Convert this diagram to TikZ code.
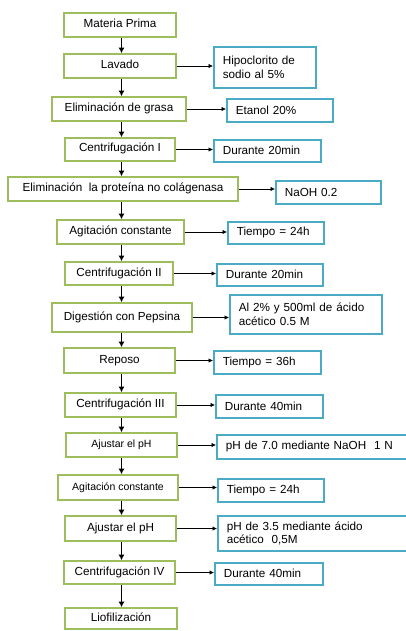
\documentclass[tikz,border=0pt]{standalone}
\usepackage{fontspec}
\setmainfont{Liberation Sans}
\usepackage{tikz}
\usepackage{color}
\definecolor{verdeoliva}{RGB}{158,189,92}
\definecolor{azulagua}{RGB}{75,170,196}
\usetikzlibrary{shapes,arrows,arrows.meta}
\tikzstyle{paso} = [draw=verdeoliva, rectangle, line width=1.6pt, inner sep=0pt,
    minimum height=24pt, text height=9pt, text depth=4pt,
    font=\fontsize{11.7}{13.5}\selectfont]
\tikzstyle{pasochico} = [paso, font=\fontsize{10.5}{12}\selectfont]
\tikzstyle{dato} = [draw=azulagua, rectangle, line width=1.6pt, inner xsep=9pt,
    inner ysep=0pt, minimum height=23pt, align=left, anchor=north west,
    font=\fontsize{11.7}{13.5}\selectfont]
\tikzstyle{baja} = [-{Latex[length=5.5pt,width=6pt]}, line width=1.8pt]
\tikzstyle{lado} = [-{Latex[length=4.5pt,width=4.5pt]}, line width=0.7pt]

\begin{document}
\begin{tikzpicture}[x=1pt, y=-1pt]
    \useasboundingbox (0,0) rectangle (406,631);
    \fill [white] (0,0) rectangle (406,631);
    \clip (0,0) rectangle (406,631);

    % pasos del proceso
    \node [paso, minimum width=112pt] (prima) at (120,25) {Materia Prima};
    \node [paso, minimum width=112pt] (lavado) at (120,66) {Lavado};
    \node [paso, minimum width=134pt] (grasa) at (119,109) {Eliminación de grasa};
    \node [paso, minimum width=110pt, minimum height=23pt] (centI) at (120,149.5) {Centrifugación I};
    \node [paso, minimum width=230pt] (proteina) at (123,189) {Eliminación\ \ la proteína no colágenasa};
    \node [paso, minimum width=127pt] (agitA) at (120.5,232) {Agitación constante};
    \node [paso, minimum width=108pt, minimum height=23pt] (centII) at (119,273.5) {Centrifugación II};
    \node [paso, minimum width=140pt, minimum height=29pt] (digestion) at (122,317.5) {Digestión con Pepsina};
    \node [paso, minimum width=111pt, minimum height=25pt] (reposo) at (119.5,360.5) {Reposo};
    \node [paso, minimum width=111pt] (centIII) at (120.5,405) {Centrifugación III};
    \node [pasochico, minimum width=111pt] (phA) at (121.5,445) {Ajustar el pH};
    \node [pasochico, minimum width=120pt, minimum height=25pt] (agitB) at (118,487.5) {Agitación constante};
    \node [paso, minimum width=111pt, minimum height=25pt] (phB) at (120.5,528.5) {Ajustar el pH};
    \node [paso, minimum width=111pt, minimum height=23pt] (centIV) at (119.5,572.5) {Centrifugación IV};
    \node [paso, minimum width=112pt, minimum height=21pt] (liofil) at (121,618.5) {Liofilización};

    % condiciones
    \node [dato, text width=84pt, minimum height=41pt] (hipo) at (213,46) {Hipoclorito de\\sodio al 5\%};
    \node [dato, text width=88pt] (etanol) at (226,98) {Etanol 20\%};
    \node [dato, text width=89pt, minimum height=22pt] (durI) at (213,139) {Durante 20min};
    \node [dato, text width=87pt] (naoh) at (275,180) {NaOH 0.2};
    \node [dato, text width=78pt, minimum height=22pt] (tiempoA) at (227,221) {Tiempo = 24h};
    \node [dato, text width=88pt, minimum height=22pt] (durII) at (216,263) {Durante 20min};
    \node [dato, text width=134pt, minimum height=39pt] (pepsina) at (229,294) {Al 2\% y 500ml de ácido\\acético 0.5 M};
    \node [dato, text width=89pt] (tiempoB) at (213,350) {Tiempo = 36h};
    \node [dato, text width=89pt] (durIII) at (215,394) {Durante 40min};
    \node [dato, text width=178pt, minimum height=24pt] (naohN) at (216,434) {pH de 7.0 mediante NaOH\ \ 1 N};
    \node [dato, text width=88pt] (tiempoC) at (217,478) {Tiempo = 24h};
    \node [dato, text width=177pt, minimum height=35pt] (acido) at (217,515) {pH de 3.5 mediante ácido\\acético\ \ 0,5M};
    \node [dato, text width=90pt, minimum height=22pt] (durIV) at (214,562) {Durante 40min};

    \coordinate (eje) at (121.5,0);
    \foreach \a/\b in {prima/lavado, lavado/grasa, grasa/centI, centI/proteina,
        proteina/agitA, agitA/centII, centII/digestion, digestion/reposo,
        reposo/centIII, centIII/phA, phA/agitB, agitB/phB, phB/centIV, centIV/liofil}
        \draw [baja] (\a.south -| eje) -- (\b.north -| eje);

    \foreach \a/\b in {lavado/hipo, grasa/etanol, centI/durI, proteina/naoh,
        agitA/tiempoA, centII/durII, digestion/pepsina, reposo/tiempoB,
        centIII/durIII, phA/naohN, agitB/tiempoC, phB/acido, centIV/durIV}
        \draw [lado] (\a.east) -- (\a.east -| \b.west);
\end{tikzpicture}
\end{document}
